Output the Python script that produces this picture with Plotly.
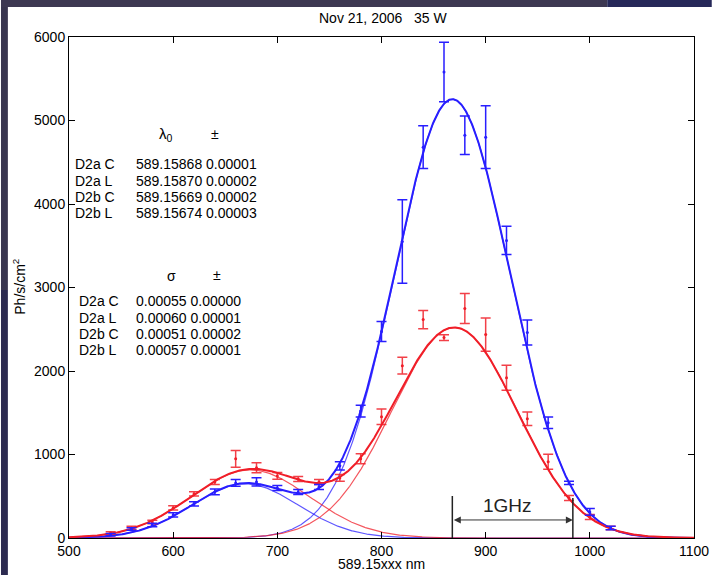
import numpy as np
import plotly.graph_objects as go

# ---------------- data ----------------
x_pts = [540, 560, 580, 600, 620, 640, 660, 680, 700, 720, 740, 760, 780,
         800, 820, 840, 860, 880, 900, 920, 940, 960, 980, 1000, 1020]

blue_vals = [40, 108, 156, 276, 408, 552, 660, 672, 600, 552, 612, 864, 1520,
             2472, 3552, 4680, 5580, 4824, 4800, 3564, 2460, 1380, 660, 312, 120]
blue_err = [15, 15, 20, 25, 25, 35, 40, 50, 30, 30, 30, 50, 70,
            120, 500, 256, 356, 230, 376, 170, 150, 70, 20, 40, 20]

red_vals = [60, 120, 192, 360, 528, 672, 948, 840, 744, 708, 672, 720, 948,
            1452, 2064, 2616, 2400, 2748, 2436, 1920, 1428, 912, 480, 252, 120]
red_err = [15, 20, 20, 25, 25, 30, 100, 60, 40, 30, 30, 40, 60,
           92, 100, 110, 35, 180, 200, 150, 80, 90, 30, 30, 20]

# Gaussian fit parameters (center, sigma in 1e-5 nm units, amplitude)
fit_labels = ["D2a C", "D2a L", "D2b C", "D2b L"]
fit_center = [868, 870, 669, 674]
fit_sigma = [55, 60, 51, 57]
fit_amp = [5255, 2520, 650, 815]
fit_center_err = ["0.00001", "0.00002", "0.00002", "0.00003"]
fit_sigma_err = ["0.00000", "0.00001", "0.00002", "0.00001"]

ghz_start = 868
ghz_span = 115.7   # 1 GHz in 1e-5 nm at 589 nm

BLUE = "rgb(40,30,255)"
RED = "rgb(240,30,40)"
FONT = "Liberation Sans, Arial, sans-serif"

# ---------------- figure ----------------
W, H = 721, 575
L, R, T, B = 69, 18, 37, 37
PW, PH = W - L - R, H - T - B


def px(xp):
    return (xp - L) / PW


def py(yp):
    return (H - B - yp) / PH


def gauss(xx, c, s, a):
    return a * np.exp(-(xx - c) ** 2 / (2 * s ** 2))


xx = np.linspace(500, 1100, 1201)
comps = [gauss(xx, c, s, a) for c, s, a in zip(fit_center, fit_sigma, fit_amp)]

fig = go.Figure()

# components (thin)
for k, col in [(2, "rgba(40,30,255,0.75)"), (0, "rgba(40,30,255,0.75)"),
               (3, "rgba(240,30,40,0.75)"), (1, "rgba(240,30,40,0.75)")]:
    fig.add_trace(go.Scatter(x=xx, y=comps[k], mode="lines",
                             line=dict(color=col, width=1.2), hoverinfo="skip"))

# totals (thick)
fig.add_trace(go.Scatter(x=xx, y=comps[0] + comps[2], mode="lines",
                         line=dict(color=BLUE, width=2)))
fig.add_trace(go.Scatter(x=xx, y=comps[1] + comps[3], mode="lines",
                         line=dict(color=RED, width=2)))

# data with error bars
fig.add_trace(go.Scatter(x=x_pts, y=red_vals, mode="markers",
                         marker=dict(color=RED, size=3),
                         error_y=dict(type="data", array=red_err, visible=True,
                                      color="rgba(240,30,40,0.85)", thickness=1.5, width=5)))
fig.add_trace(go.Scatter(x=x_pts, y=blue_vals, mode="markers",
                         marker=dict(color=BLUE, size=3),
                         error_y=dict(type="data", array=blue_err, visible=True,
                                      color=BLUE, thickness=1.5, width=5)))

ann = []
font = dict(family=FONT, size=14, color="black")

# title and axis titles
ann.append(dict(text="Nov 21, 2006\u00a0\u00a0\u00a035 W", x=px(388), y=py(18), xref="paper", yref="paper",
                showarrow=False, xanchor="center", yanchor="middle",
                font=dict(family=FONT, size=14, color="black")))
ann.append(dict(text="589.15xxx nm", x=px(386), y=py(564), xref="paper", yref="paper",
                showarrow=False, xanchor="center", yanchor="middle",
                font=dict(family=FONT, size=14, color="black")))
ann.append(dict(text="Ph/s/cm<sup>2</sup>", x=px(18), y=py(287), xref="paper", yref="paper",
                showarrow=False, xanchor="center", yanchor="middle", textangle=-90,
                font=dict(family=FONT, size=14, color="black")))

# lambda block
ann.append(dict(text="λ<sub>0</sub>", x=px(167), y=py(135), xref="paper", yref="paper",
                showarrow=False, xanchor="center", yanchor="middle",
                font=dict(family=FONT, size=15, color="black")))
ann.append(dict(text="±", x=px(217), y=py(134), xref="paper", yref="paper",
                showarrow=False, xanchor="center", yanchor="middle", font=font))
rows1 = [164, 181, 197, 213]
for i, yy in enumerate(rows1):
    ann.append(dict(text=fit_labels[i], x=px(73), y=py(yy), xref="paper", yref="paper",
                    showarrow=False, xanchor="left", yanchor="middle", font=font))
    val = "589.15%03d %s" % (fit_center[i], fit_center_err[i])
    ann.append(dict(text=val, x=px(135), y=py(yy), xref="paper", yref="paper",
                    showarrow=False, xanchor="left", yanchor="middle", font=font))

# sigma block
ann.append(dict(text="σ", x=px(173), y=py(276), xref="paper", yref="paper",
                showarrow=False, xanchor="center", yanchor="middle", font=font))
ann.append(dict(text="±", x=px(219), y=py(275), xref="paper", yref="paper",
                showarrow=False, xanchor="center", yanchor="middle", font=font))
rows2 = [301, 318, 334, 350]
for i, yy in enumerate(rows2):
    ann.append(dict(text=fit_labels[i], x=px(77), y=py(yy), xref="paper", yref="paper",
                    showarrow=False, xanchor="left", yanchor="middle", font=font))
    val = "0.%05d %s" % (fit_sigma[i], fit_sigma_err[i])
    ann.append(dict(text=val, x=px(135), y=py(yy), xref="paper", yref="paper",
                    showarrow=False, xanchor="left", yanchor="middle", font=font))

# 1 GHz arrow
ann.append(dict(text="", x=ghz_start + ghz_span, y=216, ax=ghz_start, ay=216,
                xref="x", yref="y", axref="x", ayref="y", showarrow=True,
                arrowhead=2, arrowsize=1.4, arrowwidth=1, arrowcolor="#333",
                arrowside="end+start"))
ann.append(dict(text="1GHz", x=ghz_start + ghz_span / 2 - 5, y=384, xref="x", yref="y",
                showarrow=False, xanchor="center", yanchor="middle",
                font=dict(family=FONT, size=19, color="#222")))

shapes = [
    dict(type="line", xref="x", yref="y", x0=ghz_start, x1=ghz_start, y0=0, y1=503,
         line=dict(color="#222", width=1.5)),
    dict(type="line", xref="x", yref="y", x0=ghz_start + ghz_span, x1=ghz_start + ghz_span,
         y0=0, y1=480, line=dict(color="#222", width=1.5)),
    # slide background bands
    dict(type="rect", xref="paper", yref="paper", x0=px(0), x1=px(615), y0=py(7), y1=py(0),
         fillcolor="#3d3852", line=dict(width=0), layer="above"),
    dict(type="rect", xref="paper", yref="paper", x0=px(615), x1=px(721), y0=py(7), y1=py(0),
         fillcolor="#262859", line=dict(width=0), layer="above"),
    dict(type="rect", xref="paper", yref="paper", x0=px(0), x1=px(7), y0=py(290), y1=py(7),
         fillcolor="#39354f", line=dict(width=0), layer="above"),
    dict(type="rect", xref="paper", yref="paper", x0=px(0), x1=px(7), y0=py(575), y1=py(290),
         fillcolor="#2c2a50", line=dict(width=0), layer="above"),
]

axis_common = dict(showline=True, linecolor="black", linewidth=1, mirror="ticks",
                   ticks="inside", ticklen=6, tickcolor="black", tickwidth=1,
                   showgrid=False, zeroline=False,
                   tickfont=dict(family=FONT, size=14, color="black"))

fig.update_layout(
    width=W, height=H, autosize=False,
    margin=dict(l=L, r=R, t=T, b=B, pad=0),
    paper_bgcolor="white", plot_bgcolor="white",
    showlegend=False,
    xaxis=dict(range=[500, 1100], dtick=100, tick0=500, **axis_common),
    yaxis=dict(range=[0, 6000], dtick=1000, tick0=0, **axis_common),
    annotations=ann, shapes=shapes,
)

fig.write_html("out.html")
